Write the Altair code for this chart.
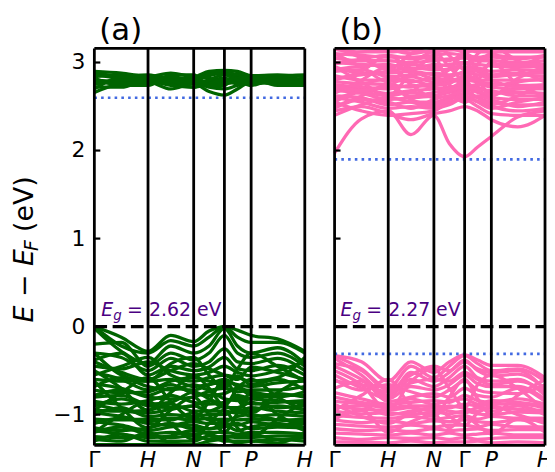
import altair as alt
import pandas as pd

# ---------------- data ----------------
K_LABELS = ["Γ", "H", "N", "Γ", "P", "H"]
K_TICKS = [0.0, 0.255, 0.472, 0.618, 0.745, 1.0]
# k-points where band energies are sampled (Γ, ., H, ., N, ., Γ, ., P, ., H)
K_GRID = [0.0, 0.128, 0.255, 0.363, 0.472, 0.545, 0.618, 0.68, 0.745, 0.87, 1.0]
PANEL_B_OFFSET = 1.1415

Y_TICKS = [-1, 0, 1, 2, 3]
YMIN, YMAX = -1.35, 3.16

GAP_A = "2.62"
GAP_B = "2.27"
CBM_A = 2.60
CBM_B = 1.90
VBM_B = -0.31

# panel (a) conduction bands (eV)
a_cond = [
    [2.66, 2.76, 2.78, 2.70, 2.76, 2.67, 2.63, 2.70, 2.78, 2.77, 2.78],
    [2.72, 2.72, 2.80, 2.76, 2.78, 2.72, 2.70, 2.74, 2.77, 2.80, 2.79],
    [2.80, 2.78, 2.76, 2.80, 2.77, 2.80, 2.82, 2.79, 2.76, 2.78, 2.80],
    [2.86, 2.82, 2.78, 2.82, 2.80, 2.85, 2.88, 2.84, 2.80, 2.80, 2.82],
    [2.88, 2.84, 2.80, 2.78, 2.82, 2.87, 2.89, 2.86, 2.82, 2.82, 2.78],
    [2.84, 2.86, 2.82, 2.84, 2.79, 2.78, 2.76, 2.78, 2.80, 2.84, 2.80],
    [2.75, 2.80, 2.81, 2.78, 2.84, 2.82, 2.78, 2.82, 2.79, 2.76, 2.81],
    [2.78, 2.76, 2.79, 2.74, 2.72, 2.76, 2.80, 2.76, 2.81, 2.79, 2.77],
    [2.70, 2.84, 2.86, 2.80, 2.72, 2.80, 2.86, 2.80, 2.74, 2.84, 2.86],
    [2.82, 2.74, 2.74, 2.86, 2.86, 2.74, 2.74, 2.88, 2.84, 2.74, 2.74],
    [2.90, 2.88, 2.84, 2.88, 2.84, 2.90, 2.91, 2.90, 2.85, 2.86, 2.84],
]

# panel (a) valence bands (eV)
a_val = [
    [0.00, -0.12, -0.28, -0.10, -0.17, -0.05, 0.00, -0.04, -0.10, -0.14, -0.28],
    [0.00, -0.22, -0.30, -0.16, -0.22, -0.12, 0.00, -0.12, -0.18, -0.18, -0.30],
    [-0.02, -0.28, -0.42, -0.22, -0.30, -0.22, -0.02, -0.22, -0.30, -0.24, -0.42],
    [-0.20, -0.18, -0.45, -0.30, -0.38, -0.30, -0.10, -0.30, -0.35, -0.30, -0.45],
    [-0.30, -0.35, -0.50, -0.36, -0.45, -0.40, -0.25, -0.40, -0.42, -0.36, -0.50],
    [-0.38, -0.30, -0.55, -0.45, -0.50, -0.46, -0.35, -0.48, -0.50, -0.44, -0.55],
    [-0.45, -0.48, -0.40, -0.50, -0.55, -0.52, -0.45, -0.52, -0.56, -0.50, -0.40],
    [-0.55, -0.45, -0.35, -0.55, -0.62, -0.58, -0.55, -0.58, -0.62, -0.58, -0.35],
    [-0.60, -0.62, -0.62, -0.60, -0.68, -0.66, -0.62, -0.66, -0.68, -0.64, -0.62],
    [-0.68, -0.58, -0.68, -0.72, -0.66, -0.72, -0.70, -0.74, -0.72, -0.72, -0.68],
    [-0.72, -0.75, -0.74, -0.66, -0.76, -0.78, -0.76, -0.70, -0.78, -0.80, -0.74],
    [-0.78, -0.72, -0.80, -0.82, -0.80, -0.74, -0.82, -0.84, -0.82, -0.76, -0.80],
    [-0.85, -0.88, -0.84, -0.78, -0.86, -0.88, -0.86, -0.80, -0.88, -0.86, -0.84],
    [-0.90, -0.82, -0.90, -0.92, -0.90, -0.84, -0.92, -0.92, -0.86, -0.92, -0.90],
    [-0.95, -0.96, -0.95, -0.88, -0.96, -0.96, -0.96, -0.98, -0.95, -0.90, -0.95],
    [-1.00, -0.92, -1.02, -1.00, -1.02, -1.00, -1.00, -0.94, -1.02, -1.00, -1.02],
    [-1.05, -1.06, -1.05, -1.06, -0.98, -1.06, -1.05, -1.06, -1.05, -1.06, -1.05],
    [-1.10, -1.04, -1.10, -1.12, -1.08, -1.10, -1.10, -1.12, -1.08, -1.12, -1.10],
    [-1.15, -1.18, -1.15, -1.10, -1.16, -1.16, -1.14, -1.10, -1.16, -1.14, -1.15],
    [-1.20, -1.14, -1.22, -1.20, -1.22, -1.20, -1.20, -1.22, -1.20, -1.20, -1.22],
    [-1.25, -1.26, -1.24, -1.26, -1.24, -1.28, -1.24, -1.26, -1.26, -1.24, -1.24],
    [-1.30, -1.22, -1.30, -1.30, -1.30, -1.24, -1.30, -1.30, -1.30, -1.28, -1.30],
    [-1.34, -1.34, -1.34, -1.33, -1.36, -1.34, -1.36, -1.34, -1.35, -1.34, -1.35],
    [-0.50, -0.70, -0.95, -0.75, -0.55, -0.70, -0.90, -0.70, -0.60, -0.80, -0.95],
    [-0.95, -0.75, -0.58, -0.85, -1.05, -0.85, -0.60, -0.82, -0.98, -0.75, -0.58],
    [-0.62, -0.92, -1.15, -0.95, -0.80, -1.00, -1.20, -0.98, -0.75, -1.00, -1.15],
    [-1.20, -1.00, -0.85, -1.10, -1.28, -1.10, -0.95, -1.15, -1.25, -1.05, -0.85],
    [-0.30, -0.55, -0.62, -0.42, -0.35, -0.55, -0.70, -0.48, -0.30, -0.45, -0.62],
    [-0.40, -0.52, -0.60, -0.50, -0.42, -0.48, -0.55, -0.60, -0.46, -0.52, -0.60],
    [-0.52, -0.60, -0.72, -0.62, -0.58, -0.62, -0.66, -0.56, -0.66, -0.60, -0.72],
    [-0.65, -0.70, -0.78, -0.70, -0.72, -0.66, -0.60, -0.68, -0.74, -0.78, -0.78],
    [-0.80, -0.78, -0.88, -0.86, -0.74, -0.82, -0.88, -0.78, -0.82, -0.84, -0.88],
    [-0.88, -0.95, -0.98, -0.94, -0.90, -0.96, -0.90, -0.96, -0.92, -0.96, -0.98],
    [-0.98, -1.02, -1.08, -1.04, -1.06, -1.04, -1.08, -1.02, -1.00, -1.06, -1.08],
    [-1.08, -1.12, -1.18, -1.14, -1.12, -1.16, -1.12, -1.18, -1.14, -1.10, -1.18],
    [-1.18, -1.22, -1.26, -1.24, -1.18, -1.22, -1.26, -1.24, -1.22, -1.28, -1.26],
    [-1.28, -1.30, -1.20, -1.32, -1.34, -1.30, -1.28, -1.32, -1.30, -1.32, -1.20],
]

# panel (b) conduction bands (eV)
b_cond = [
    [1.97, 2.36, 2.45, 2.18, 2.40, 2.08, 1.93, 2.04, 2.16, 2.38, 2.45],
    [2.45, 2.50, 2.42, 2.35, 2.42, 2.45, 2.50, 2.45, 2.35, 2.27, 2.40],
    [2.55, 2.45, 2.40, 2.42, 2.45, 2.55, 2.58, 2.50, 2.42, 2.40, 2.40],
    [2.60, 2.55, 2.48, 2.50, 2.48, 2.52, 2.60, 2.56, 2.50, 2.45, 2.48],
    [2.62, 2.60, 2.52, 2.55, 2.55, 2.60, 2.65, 2.60, 2.55, 2.52, 2.52],
    [2.68, 2.65, 2.58, 2.60, 2.62, 2.66, 2.70, 2.66, 2.60, 2.58, 2.58],
    [2.72, 2.70, 2.65, 2.68, 2.70, 2.72, 2.74, 2.72, 2.66, 2.66, 2.65],
    [2.75, 2.72, 2.70, 2.74, 2.72, 2.68, 2.72, 2.75, 2.72, 2.70, 2.70],
    [2.78, 2.76, 2.75, 2.72, 2.76, 2.78, 2.80, 2.78, 2.76, 2.74, 2.75],
    [2.85, 2.80, 2.80, 2.78, 2.82, 2.80, 2.82, 2.80, 2.80, 2.80, 2.80],
    [2.90, 2.92, 2.84, 2.86, 2.88, 2.86, 2.88, 2.86, 2.84, 2.86, 2.84],
    [2.95, 2.88, 2.90, 2.94, 2.92, 2.92, 2.95, 2.94, 2.90, 2.92, 2.90],
    [3.00, 2.98, 2.96, 2.98, 2.95, 2.98, 3.00, 2.98, 2.96, 2.95, 2.96],
    [3.05, 3.02, 3.02, 3.00, 3.02, 3.04, 3.05, 3.02, 3.02, 3.00, 3.02],
    [3.10, 3.08, 3.06, 3.06, 3.08, 3.10, 3.08, 3.06, 3.08, 3.06, 3.06],
    [3.15, 3.12, 3.12, 3.14, 3.12, 3.14, 3.15, 3.12, 3.12, 3.12, 3.12],
    [3.20, 3.18, 3.16, 3.18, 3.18, 3.20, 3.20, 3.18, 3.16, 3.18, 3.16],
    [2.65, 2.80, 2.95, 2.75, 2.60, 2.80, 3.00, 2.82, 2.62, 2.82, 2.95],
    [2.95, 2.78, 2.62, 2.88, 3.05, 2.75, 2.55, 2.78, 3.00, 2.75, 2.62],
    [3.10, 2.95, 2.78, 2.98, 3.12, 2.95, 2.80, 2.98, 3.10, 2.92, 2.78],
    [2.50, 2.62, 2.75, 2.58, 2.52, 2.62, 2.68, 2.60, 2.52, 2.62, 2.75],
    [2.80, 2.90, 3.08, 2.92, 2.82, 2.92, 3.08, 2.90, 2.85, 2.95, 3.08],
    [3.18, 3.05, 2.92, 3.10, 3.20, 3.08, 2.92, 3.10, 3.18, 3.02, 2.92],
    [2.40, 2.52, 2.60, 2.55, 2.50, 2.58, 2.62, 2.55, 2.48, 2.55, 2.60],
    [2.48, 2.58, 2.55, 2.48, 2.58, 2.62, 2.55, 2.62, 2.58, 2.50, 2.55],
    [2.58, 2.68, 2.72, 2.62, 2.66, 2.70, 2.78, 2.68, 2.64, 2.70, 2.72],
    [2.70, 2.75, 2.82, 2.80, 2.74, 2.76, 2.85, 2.80, 2.74, 2.78, 2.82],
    [2.82, 2.86, 2.88, 2.90, 2.86, 2.84, 2.90, 2.92, 2.86, 2.88, 2.88],
    [2.92, 2.96, 2.98, 2.92, 2.98, 2.96, 2.94, 2.90, 2.98, 2.98, 2.98],
    [2.98, 3.04, 3.08, 3.04, 3.06, 3.02, 3.10, 3.04, 3.06, 3.04, 3.08],
    [3.08, 3.12, 3.14, 3.10, 3.14, 3.16, 3.12, 3.14, 3.12, 3.14, 3.14],
    [2.55, 2.66, 2.62, 2.66, 2.62, 2.68, 2.72, 2.70, 2.68, 2.62, 2.62],
    [2.74, 2.68, 2.74, 2.84, 2.78, 2.82, 2.76, 2.86, 2.80, 2.72, 2.74],
]

# panel (b) valence bands (eV)
b_val = [
    [-0.33, -0.40, -0.62, -0.40, -0.52, -0.40, -0.32, -0.38, -0.44, -0.44, -0.58],
    [-0.33, -0.48, -0.70, -0.45, -0.58, -0.45, -0.33, -0.42, -0.50, -0.48, -0.62],
    [-0.36, -0.55, -0.78, -0.52, -0.62, -0.52, -0.38, -0.50, -0.56, -0.54, -0.70],
    [-0.45, -0.60, -0.80, -0.60, -0.68, -0.58, -0.45, -0.58, -0.62, -0.60, -0.78],
    [-0.55, -0.70, -0.82, -0.68, -0.72, -0.66, -0.55, -0.65, -0.68, -0.68, -0.82],
    [-0.60, -0.72, -0.66, -0.74, -0.80, -0.72, -0.62, -0.72, -0.75, -0.76, -0.66],
    [-0.70, -0.62, -0.85, -0.80, -0.76, -0.80, -0.70, -0.78, -0.80, -0.70, -0.85],
    [-0.75, -0.82, -0.88, -0.86, -0.84, -0.86, -0.78, -0.84, -0.86, -0.82, -0.88],
    [-0.85, -0.88, -0.92, -0.90, -0.90, -0.92, -0.88, -0.90, -0.88, -0.88, -0.92],
    [-0.90, -0.94, -0.95, -0.92, -0.96, -0.90, -0.93, -0.96, -0.92, -0.94, -0.95],
    [-0.96, -0.99, -0.98, -1.00, -0.97, -0.99, -0.96, -0.99, -1.00, -0.97, -0.98],
    [-1.01, -1.03, -1.04, -1.02, -1.05, -1.03, -1.01, -1.05, -1.02, -1.04, -1.04],
    [-1.06, -1.09, -1.07, -1.10, -1.07, -1.08, -1.06, -1.08, -1.09, -1.06, -1.07],
    [-1.11, -1.13, -1.14, -1.12, -1.14, -1.12, -1.12, -1.14, -1.11, -1.14, -1.14],
    [-1.16, -1.18, -1.17, -1.19, -1.16, -1.18, -1.17, -1.16, -1.18, -1.17, -1.17],
    [-1.21, -1.22, -1.23, -1.21, -1.23, -1.21, -1.23, -1.22, -1.21, -1.23, -1.23],
    [-1.26, -1.28, -1.26, -1.27, -1.26, -1.28, -1.26, -1.28, -1.27, -1.26, -1.26],
    [-1.31, -1.31, -1.32, -1.30, -1.32, -1.31, -1.31, -1.30, -1.32, -1.31, -1.32],
    [-1.35, -1.34, -1.35, -1.35, -1.34, -1.35, -1.35, -1.35, -1.34, -1.35, -1.35],
    [-0.50, -0.66, -0.95, -0.62, -0.48, -0.70, -0.92, -0.66, -0.55, -0.70, -0.95],
    [-0.95, -0.78, -0.60, -0.90, -1.02, -0.80, -0.60, -0.82, -1.00, -0.78, -0.60],
    [-0.88, -1.02, -1.10, -0.98, -0.92, -1.02, -1.12, -0.98, -0.90, -1.00, -1.10],
    [-1.05, -0.95, -1.20, -1.08, -1.00, -1.15, -1.02, -1.12, -1.22, -1.05, -1.20],
    [-0.42, -0.50, -0.72, -0.55, -0.45, -0.50, -0.40, -0.48, -0.52, -0.50, -0.72],
    [-0.62, -0.66, -0.74, -0.64, -0.60, -0.62, -0.52, -0.60, -0.66, -0.62, -0.74],
    [-0.80, -0.86, -0.90, -0.82, -0.88, -0.84, -0.82, -0.88, -0.84, -0.86, -0.90],
    [-0.92, -0.90, -1.00, -0.96, -0.92, -0.96, -0.98, -0.92, -0.96, -0.90, -1.00],
]

# ---------------- build tables ----------------
def band_rows(bands, prefix, offset):
    rows = []
    for i, band in enumerate(bands):
        for k, e in zip(K_GRID, band):
            rows.append({"band": f"{prefix}{i}", "x": offset + k, "E": e})
    return rows

df_a = pd.DataFrame(band_rows(a_cond, "ac", 0.0) + band_rows(a_val, "av", 0.0))
df_b = pd.DataFrame(band_rows(b_cond, "bc", PANEL_B_OFFSET) + band_rows(b_val, "bv", PANEL_B_OFFSET))

OFFSETS = [0.0, PANEL_B_OFFSET]
vlines = pd.DataFrame([{"x": o + k, "y1": YMIN, "y2": YMAX} for o in OFFSETS for k in K_TICKS])
hframe = pd.DataFrame([{"x1": o, "x2": o + 1.0, "E": e} for o in OFFSETS for e in (YMIN, YMAX)])
zero_line = pd.DataFrame([{"x1": o, "x2": o + 1.0, "E": 0.0} for o in OFFSETS])
dotted = pd.DataFrame([
    {"x1": 0.0, "x2": 1.0, "E": CBM_A},
    {"x1": PANEL_B_OFFSET, "x2": PANEL_B_OFFSET + 1.0, "E": CBM_B},
    {"x1": PANEL_B_OFFSET, "x2": PANEL_B_OFFSET + 1.0, "E": VBM_B},
])
TICK_LEN = 6.0 / 212.0
yticks = pd.DataFrame([{"x1": o, "x2": o + TICK_LEN, "E": v} for o in OFFSETS for v in Y_TICKS])
ylabels = pd.DataFrame([{"E": v, "t": ("−" + str(-v)) if v < 0 else str(v)} for v in Y_TICKS])
klab = pd.DataFrame([{"x": o + k, "t": t, "it": t != "Γ"} for o in OFFSETS for k, t in zip(K_TICKS, K_LABELS)])

XMAX = PANEL_B_OFFSET + 1.0
W, H = 454, 400
xs = alt.Scale(domain=[0, XMAX], nice=False, zero=False)
ys = alt.Scale(domain=[YMIN, YMAX], nice=False, zero=False)
FONT = "DejaVu Sans"


def X(f):
    return alt.X(f, type="quantitative", scale=xs, axis=None)


def Y(f):
    return alt.Y(f, type="quantitative", scale=ys, axis=None)


LW = 3.3
bands_a = alt.Chart(df_a).mark_line(color="#006400", strokeWidth=LW, interpolate="monotone", clip=True).encode(
    x=X("x"), y=Y("E"), detail="band:N", order="x:Q")
bands_b = alt.Chart(df_b).mark_line(color="#FF69B4", strokeWidth=LW, interpolate="monotone", clip=True).encode(
    x=X("x"), y=Y("E"), detail="band:N", order="x:Q")

vrules = alt.Chart(vlines).mark_rule(color="black", strokeWidth=2.8).encode(x=X("x"), y=Y("y1"), y2="y2")
hrules = alt.Chart(hframe).mark_rule(color="black", strokeWidth=2.8).encode(x=X("x1"), x2="x2", y=Y("E"))
zrule = alt.Chart(zero_line).mark_rule(color="black", strokeWidth=3.5, strokeDash=[12.8, 5.6]).encode(
    x=X("x1"), x2="x2", y=Y("E"))
drule = alt.Chart(dotted).mark_rule(color="#4169E1", strokeWidth=2.6, strokeDash=[2.6, 4.2]).encode(
    x=X("x1"), x2="x2", y=Y("E"))
trule = alt.Chart(yticks).mark_rule(color="black", strokeWidth=2.2).encode(x=X("x1"), x2="x2", y=Y("E"))

ytext = alt.Chart(ylabels).mark_text(font=FONT, fontSize=22, align="right", baseline="middle", color="black").encode(
    x=alt.value(-9), y=Y("E"), text="t:N")
KY = 422
ktext_up = alt.Chart(klab[~klab["it"]]).mark_text(font=FONT, fontSize=22, align="center", baseline="alphabetic",
                                                   color="black").encode(x=X("x"), y=alt.value(KY), text="t:N")
ktext_it = alt.Chart(klab[klab["it"]]).mark_text(font=FONT, fontSize=22, fontStyle="italic", align="center",
                                                  baseline="alphabetic", color="black").encode(
    x=X("x"), y=alt.value(KY), text="t:N")


def label(txt, x, y, size, style="normal", color="black", angle=0):
    return alt.Chart(pd.DataFrame({"t": [txt]})).mark_text(
        font=FONT, fontSize=size, fontStyle=style, align="left", baseline="alphabetic",
        color=color, angle=angle).encode(x=alt.value(x), y=alt.value(y), text="t:N")


PURPLE = "#4B0082"
texts = [
    label("(a)", 5, -8, 31),
    label("(b)", 247, -8, 31),
    label("E", 7, 270, 19, "italic", PURPLE),
    label("g", 19, 274, 13.5, "italic", PURPLE),
    label(f"= {GAP_A} eV", 33, 270, 19, "normal", PURPLE),
    label("E", 248, 270, 19, "italic", PURPLE),
    label("g", 260, 274, 13.5, "italic", PURPLE),
    label(f"= {GAP_B} eV", 274, 270, 19, "normal", PURPLE),
    label("E − E", -62, 276, 27, "italic", "black", 270),
    label("F", -57, 204, 19, "italic", "black", 270),
    label("(eV)", -62, 185, 27, "normal", "black", 270),
]

chart = alt.layer(
    bands_a, bands_b, drule, vrules, hrules, zrule, trule, ytext, ktext_up, ktext_it, *texts
).properties(
    width=W, height=H,
    autosize=alt.AutoSizeParams(type="none"),
    padding={"left": 87, "top": 39, "right": 2, "bottom": 25},
).configure_view(stroke=None)

chart.save("out.html", embed_options={"renderer": "svg", "actions": False})
